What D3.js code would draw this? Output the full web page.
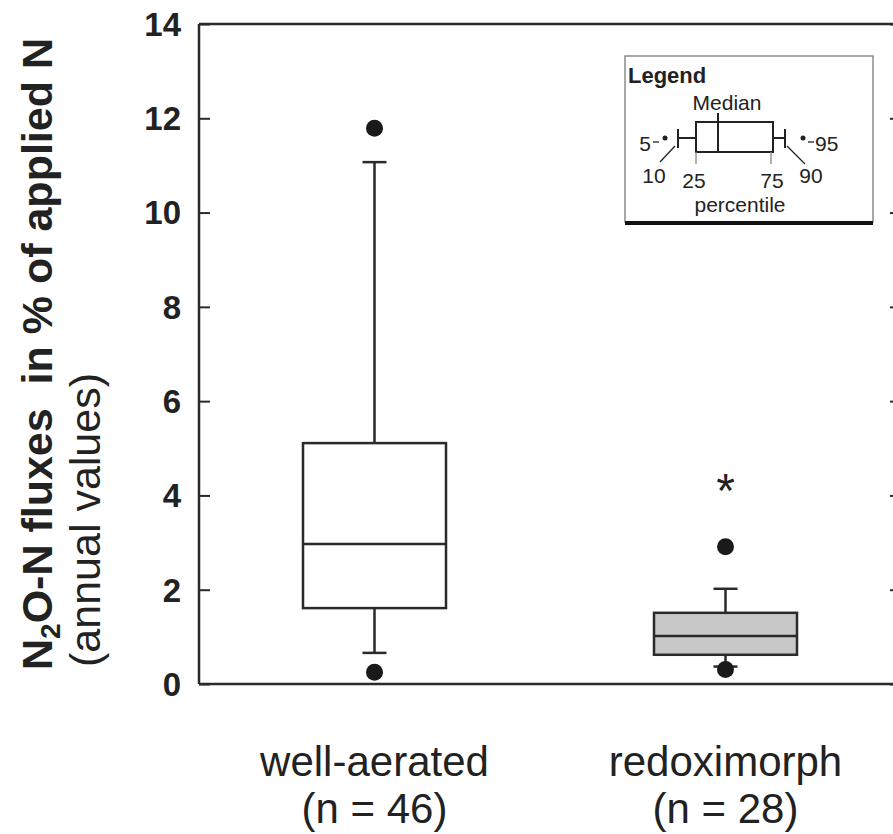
<!DOCTYPE html>
<html><head><meta charset="utf-8">
<script src="https://cdn.jsdelivr.net/npm/d3@7"></script>
<style>
html,body{margin:0;padding:0;background:#fff;}
svg{display:block;}
text{font-family:"Liberation Sans",Arial,Helvetica,sans-serif;fill:#222;white-space:pre;}
</style></head>
<body>
<svg id="chart" width="893" height="834"></svg>
<script>
// ---- data ----
const categories = ["well-aerated", "redoximorph"];
const nLabels = ["(n = 46)", "(n = 28)"];
const p5  = [0.25, 0.31];
const p10 = [0.66, 0.37];
const p25 = [1.61, 0.62];
const p50 = [2.97, 1.02];
const p75 = [5.11, 1.51];
const p90 = [11.07, 2.02];
const p95 = [11.79, 2.91];
const signif = ["", "*"];
const signifY = [0, 4.28];
const boxFill = ["#ffffff", "#c8c8c8"];
const yTicks = [0, 2, 4, 6, 8, 10, 12, 14];

(function () {
const svg = d3.select("#chart");
const stroke = "#2a2a2a";
const pLeft = 199, pRight = 901, pTop = 24, pBottom = 684;

const y = d3.scaleLinear().domain([0, 14]).range([pBottom, pTop]);
const x = d3.scalePoint().domain(categories).range([pLeft, pRight]).padding(0.5);
const boxW = 143, capW = 24;

// frame
svg.append("line").attr("x1", pLeft).attr("x2", pRight).attr("y1", pTop).attr("y2", pTop)
  .attr("stroke", stroke).attr("stroke-width", 2.5);
svg.append("line").attr("x1", pLeft).attr("x2", pRight).attr("y1", pBottom).attr("y2", pBottom)
  .attr("stroke", stroke).attr("stroke-width", 2.5);

// left axis
const yAxisL = d3.axisRight(y).tickValues(yTicks).tickSize(11).tickFormat("");
const gL = svg.append("g").attr("transform", `translate(${pLeft},0)`).call(yAxisL);
gL.select(".domain").attr("stroke", stroke).attr("stroke-width", 2.5).attr("d", `M0,${pTop}V${pBottom}`);
gL.selectAll(".tick line").attr("stroke", stroke).attr("stroke-width", 2);
svg.append("g").selectAll("text").data(yTicks).join("text")
  .attr("x", 181).attr("y", d => y(d)).attr("dy", "0.36em")
  .attr("text-anchor", "end").attr("font-weight", "bold").attr("font-size", 33)
  .text(d => d);

// right axis
const yAxisR = d3.axisLeft(y).tickValues(yTicks).tickSize(11).tickFormat("");
const gR = svg.append("g").attr("transform", `translate(${pRight},0)`).call(yAxisR);
gR.select(".domain").attr("stroke", stroke).attr("stroke-width", 2.5).attr("d", `M0,${pTop}V${pBottom}`);
gR.selectAll(".tick line").attr("stroke", stroke).attr("stroke-width", 2);

// boxes
const idx = d3.range(categories.length);
const g = svg.append("g");
idx.forEach(i => {
  const cx = x(categories[i]);
  g.append("line").attr("x1", cx).attr("x2", cx).attr("y1", y(p75[i])).attr("y2", y(p90[i]))
    .attr("stroke", stroke).attr("stroke-width", 2.5);
  g.append("line").attr("x1", cx).attr("x2", cx).attr("y1", y(p25[i])).attr("y2", y(p10[i]))
    .attr("stroke", stroke).attr("stroke-width", 2.5);
  g.append("line").attr("x1", cx - capW / 2).attr("x2", cx + capW / 2).attr("y1", y(p90[i])).attr("y2", y(p90[i]))
    .attr("stroke", stroke).attr("stroke-width", 2.5);
  g.append("line").attr("x1", cx - capW / 2).attr("x2", cx + capW / 2).attr("y1", y(p10[i])).attr("y2", y(p10[i]))
    .attr("stroke", stroke).attr("stroke-width", 2.5);
  g.append("rect").attr("x", cx - boxW / 2).attr("width", boxW)
    .attr("y", y(p75[i])).attr("height", y(p25[i]) - y(p75[i]))
    .attr("fill", boxFill[i]).attr("stroke", stroke).attr("stroke-width", 2.5);
  g.append("line").attr("x1", cx - boxW / 2).attr("x2", cx + boxW / 2).attr("y1", y(p50[i])).attr("y2", y(p50[i]))
    .attr("stroke", stroke).attr("stroke-width", 2.5);
  g.append("circle").attr("cx", cx).attr("cy", y(p5[i])).attr("r", 8.5).attr("fill", "#1a1a1a");
  g.append("circle").attr("cx", cx).attr("cy", y(p95[i])).attr("r", 8.5).attr("fill", "#1a1a1a");
  if (signif[i]) {
    g.append("text").attr("x", cx).attr("y", y(signifY[i]) + 25).attr("text-anchor", "middle")
      .attr("font-size", 48).text(signif[i]);
  }
  svg.append("text").attr("text-anchor", "middle").attr("font-size", 42)
    .attr("x", cx).attr("y", 776).text(categories[i]);
  svg.append("text").attr("text-anchor", "middle").attr("font-size", 42)
    .attr("x", cx).attr("y", 823).text(nLabels[i]);
});

// y-axis title
const t1 = svg.append("text").attr("transform", "translate(52,670) rotate(-90)")
  .attr("font-weight", "bold").attr("font-size", 43);
t1.append("tspan").text("N");
t1.append("tspan").attr("font-size", 28).attr("dy", 8).text("2");
t1.append("tspan").attr("dy", -8).text("O-N fluxes  in % of applied N");
svg.append("text").attr("transform", "translate(100,667) rotate(-90)")
  .attr("font-size", 43).text("(annual values)");

// legend
const L = svg.append("g").attr("transform", "translate(625,56)");
L.append("rect").attr("x", 0).attr("y", 0).attr("width", 248).attr("height", 166)
  .attr("fill", "#fff").attr("stroke", "#8a8a8a").attr("stroke-width", 1.5);
L.append("line").attr("x1", 0).attr("x2", 248).attr("y1", 167).attr("y2", 167)
  .attr("stroke", "#111").attr("stroke-width", 4);
L.append("text").attr("x", 3).attr("y", 27).attr("font-weight", "bold").attr("font-size", 22).text("Legend");
L.append("text").attr("x", 102).attr("y", 54).attr("text-anchor", "middle").attr("font-size", 21).text("Median");
const ls = "#222";
L.append("rect").attr("x", 71).attr("y", 66).attr("width", 77).attr("height", 30)
  .attr("fill", "#fff").attr("stroke", ls).attr("stroke-width", 2);
L.append("line").attr("x1", 93).attr("x2", 93).attr("y1", 57).attr("y2", 96).attr("stroke", ls).attr("stroke-width", 2);
L.append("line").attr("x1", 53).attr("x2", 71).attr("y1", 82).attr("y2", 82).attr("stroke", ls).attr("stroke-width", 2);
L.append("line").attr("x1", 148).attr("x2", 160).attr("y1", 82).attr("y2", 82).attr("stroke", ls).attr("stroke-width", 2);
L.append("line").attr("x1", 53).attr("x2", 53).attr("y1", 73).attr("y2", 92).attr("stroke", ls).attr("stroke-width", 2);
L.append("line").attr("x1", 160).attr("x2", 160).attr("y1", 73).attr("y2", 92).attr("stroke", ls).attr("stroke-width", 2);
L.append("circle").attr("cx", 40).attr("cy", 82).attr("r", 2.5).attr("fill", ls);
L.append("circle").attr("cx", 178).attr("cy", 82).attr("r", 2.5).attr("fill", ls);
L.append("text").attr("x", 26).attr("y", 95).attr("text-anchor", "end").attr("font-size", 21).text("5");
L.append("line").attr("x1", 28).attr("x2", 34).attr("y1", 86).attr("y2", 86).attr("stroke", ls).attr("stroke-width", 1.3);
L.append("line").attr("x1", 183).attr("x2", 189).attr("y1", 86).attr("y2", 86).attr("stroke", ls).attr("stroke-width", 1.3);
L.append("text").attr("x", 190).attr("y", 95).attr("font-size", 21).text("95");
L.append("line").attr("x1", 35).attr("x2", 50).attr("y1", 106).attr("y2", 90).attr("stroke", ls).attr("stroke-width", 1.3);
L.append("line").attr("x1", 162).attr("x2", 180).attr("y1", 90).attr("y2", 108).attr("stroke", ls).attr("stroke-width", 1.3);
L.append("text").attr("x", 29).attr("y", 127).attr("text-anchor", "middle").attr("font-size", 21).text("10");
L.append("text").attr("x", 186).attr("y", 127).attr("text-anchor", "middle").attr("font-size", 21).text("90");
L.append("line").attr("x1", 71).attr("x2", 71).attr("y1", 96).attr("y2", 108).attr("stroke", "#888").attr("stroke-width", 1.3);
L.append("line").attr("x1", 146).attr("x2", 146).attr("y1", 96).attr("y2", 108).attr("stroke", "#888").attr("stroke-width", 1.3);
L.append("text").attr("x", 69).attr("y", 132).attr("text-anchor", "middle").attr("font-size", 21).text("25");
L.append("text").attr("x", 147).attr("y", 132).attr("text-anchor", "middle").attr("font-size", 21).text("75");
L.append("text").attr("x", 115).attr("y", 156).attr("text-anchor", "middle").attr("font-size", 21).text("percentile");
})();
</script>
</body></html>
